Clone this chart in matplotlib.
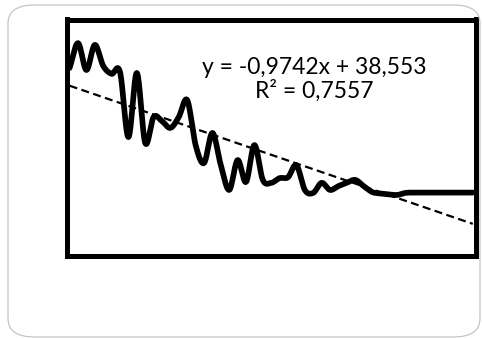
import numpy as np
import matplotlib
matplotlib.use("Agg")
import matplotlib.pyplot as plt
from matplotlib.patches import FancyBboxPatch

# series (index 1..49)
values = [43.6, 52.0, 42.9, 51.4, 44.3, 41.6, 42.2, 20.2, 41.9, 18.2,
          27.0, 25.6, 23.3, 27.0, 32.7, 17.5, 11.4, 21.6, 10.7, 2.3,
          12.4, 5.0, 17.5, 5.7, 4.7, 6.3, 6.6, 10.7, 2.3, 1.3,
          4.7, 2.3, 3.6, 4.7, 5.7, 3.6, 1.6, 1.1, 0.8, 0.6,
          1.3, 1.4, 1.4, 1.4, 1.4, 1.4, 1.4, 1.4, 1.4]
x_index = list(range(1, len(values) + 1))

# trendline shown on the chart
slope = -0.9742
intercept = 38.553
eq_text = "y = -0,9742x + 38,553"
r2_text = "R² = 0,7557"


def smooth(x, y, n=20):
    # Catmull-Rom spline, like a "smoothed line" in a spreadsheet chart
    x = np.asarray(x, float)
    y = np.asarray(y, float)
    px = np.concatenate([[2 * x[0] - x[1]], x, [2 * x[-1] - x[-2]]])
    py = np.concatenate([[2 * y[0] - y[1]], y, [2 * y[-1] - y[-2]]])
    xs, ys = [], []
    t = np.linspace(0, 1, n, endpoint=False)
    for i in range(1, len(px) - 2):
        for p, out in ((px, xs), (py, ys)):
            p0, p1, p2, p3 = p[i - 1], p[i], p[i + 1], p[i + 2]
            out.extend(0.5 * (2 * p1 + (-p0 + p2) * t
                              + (2 * p0 - 5 * p1 + 4 * p2 - p3) * t ** 2
                              + (-p0 + 3 * p1 - 3 * p2 + p3) * t ** 3))
    xs.append(x[-1])
    ys.append(y[-1])
    return np.array(xs), np.array(ys)


fig = plt.figure(figsize=(4.82, 3.38), dpi=100)

# rounded card border
card = FancyBboxPatch((8 / 482, 1 - 337 / 338), (480 - 8) / 482, (337 - 5) / 338,
                      boxstyle="round,pad=0,rounding_size=0.055",
                      transform=fig.transFigure, fill=False,
                      edgecolor="#c4c4c4", linewidth=0.9)
fig.patches.append(card)

ax = fig.add_axes([66.5 / 482, 1 - 255.8 / 338, (475.5 - 66.5) / 482, (255.8 - 19.5) / 338])
sx, sy = smooth(x_index, values)
ax.plot(sx, sy, color="black", linewidth=4.1, solid_joinstyle="round",
        solid_capstyle="round", zorder=2)

tx = np.array([x_index[0], x_index[-1]])
ax.plot(tx, slope * tx + intercept, color="black", linewidth=1.6,
        linestyle=(0, (3.6, 2)), zorder=3)

ax.set_xlim(0.63, 49.32)
ax.set_ylim(-20, 60)
ax.set_xticks([])
ax.set_yticks([])
for s in ax.spines.values():
    s.set_linewidth(3.6)
    s.set_color("black")

fig.text(314 / 482, 1 - 67.5 / 338, eq_text, ha="center", va="center",
         fontsize=16.5, family="Lato")
fig.text(314 / 482, 1 - 90.5 / 338, r2_text, ha="center", va="center",
         fontsize=16.5, family="Lato")

fig.savefig("out.png", dpi=100)
